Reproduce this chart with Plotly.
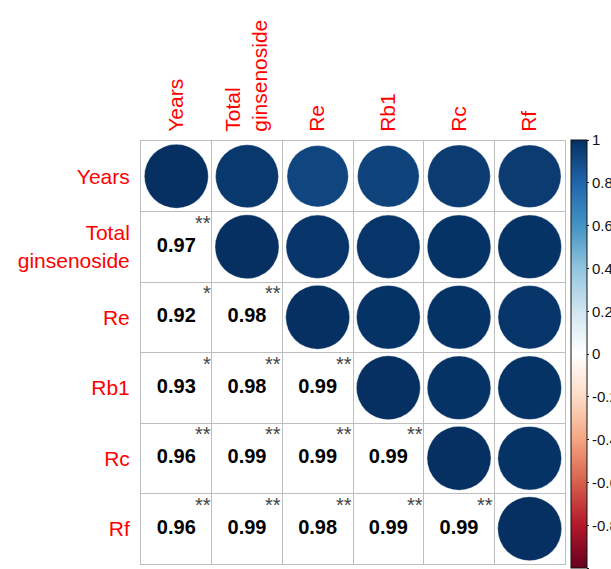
import numpy as np
import plotly.graph_objects as go

labels = ["Years", "Total<br>ginsenoside", "Re", "Rb1", "Rc", "Rf"]

# correlation matrix (lower triangle, symmetric)
corr = [
    [1.00, 0.97, 0.92, 0.93, 0.96, 0.96],
    [0.97, 1.00, 0.98, 0.98, 0.99, 0.99],
    [0.92, 0.98, 1.00, 0.99, 0.99, 0.98],
    [0.93, 0.98, 0.99, 1.00, 0.99, 0.99],
    [0.96, 0.99, 0.99, 0.99, 1.00, 0.99],
    [0.96, 0.99, 0.98, 0.99, 0.99, 1.00],
]
stars = [
    ["", "", "", "", "", ""],
    ["**", "", "", "", "", ""],
    ["*", "**", "", "", "", ""],
    ["*", "**", "**", "", "", ""],
    ["**", "**", "**", "**", "", ""],
    ["**", "**", "**", "**", "**", ""],
]

cb_vals = [1, 0.8, 0.6, 0.4, 0.2, 0, -0.2, -0.4, -0.6, -0.8, -1]
cb_text = ["1", "0.8", "0.6", "0.4", "0.2", "0", "-0.2", "-0.4", "-0.6", "-0.8", "-1"]

rdbu = ["#67001F", "#B2182B", "#D6604D", "#F4A582", "#FDDBC7", "#FFFFFF",
        "#D1E5F0", "#92C5DE", "#4393C3", "#2166AC", "#053061"]
colorscale = [[i / 10, c] for i, c in enumerate(rdbu)]

n = len(labels)
cx, cy, cv, cs = [], [], [], []
tx, ty, tt = [], [], []
for i in range(n):
    for j in range(n):
        r = corr[i][j]
        if j >= i:
            cx.append(j); cy.append(i); cv.append(r)
            cs.append(64 * np.sqrt(abs(r)))
        else:
            tx.append(j); ty.append(i); tt.append(f"{r:.2f}")

fig = go.Figure()
fig.add_trace(go.Scatter(
    x=cx, y=cy, mode="markers",
    marker=dict(size=cs, color=cv, colorscale=colorscale, cmin=-1, cmax=1,
                opacity=1, line=dict(width=0.6, color="rgba(255,255,255,0.6)"),
                colorbar=dict(
                    x=(571 - 141) / 424, xanchor="left", xpad=0, ypad=0,
                    y=1.002, yanchor="top", lenmode="pixels", len=428,
                    thickness=16, outlinewidth=1, outlinecolor="#111111",
                    tickvals=cb_vals, ticktext=cb_text, ticks="outside",
                    ticklen=2, tickcolor="#111111",
                    tickfont=dict(family="Liberation Sans, Arial", size=15, color="#111111"),
                )),
    hoverinfo="skip", showlegend=False,
))
fig.add_trace(go.Scatter(
    x=tx, y=ty, mode="text", text=tt,
    textfont=dict(family="Liberation Sans, Arial", size=20, color="black", weight="bold"),
    hoverinfo="skip", showlegend=False,
))
for i in range(n):
    for j in range(n):
        if stars[i][j]:
            fig.add_annotation(
                x=j + 0.5, y=i - 0.5, text=stars[i][j], showarrow=False,
                xanchor="right", yanchor="top", xshift=1, yshift=2,
                font=dict(family="Liberation Sans, Arial", size=20, color="#444444"),
            )

bounds = [k - 0.5 for k in range(n + 1)]
axis_common = dict(
    tickvals=list(range(n)), ticktext=labels, showgrid=False, zeroline=False,
    showline=True, mirror=True, linecolor="#BEBEBE", linewidth=1, automargin=False,
    ticks="", tickfont=dict(family="Liberation Sans, Arial", size=21, color="#FF0000"),
    minor=dict(tickvals=bounds, showgrid=True, gridcolor="#BEBEBE", gridwidth=1, ticks=""),
)
fig.update_xaxes(range=[-0.5, n - 0.5], side="top", tickangle=-90,
                 ticklabelstandoff=4, **axis_common)
fig.update_yaxes(range=[n - 0.5, -0.5], ticklabelstandoff=6, **axis_common)

fig.update_layout(
    width=611, height=569,
    margin=dict(l=141, r=46, t=141, b=5, autoexpand=False),
    plot_bgcolor="white", paper_bgcolor="white",
    font=dict(family="Liberation Sans, Arial"),
)
fig.write_html("out.html", config={"displayModeBar": False},
               post_script="document.body.style.margin='0px';document.body.style.overflow='hidden';")
